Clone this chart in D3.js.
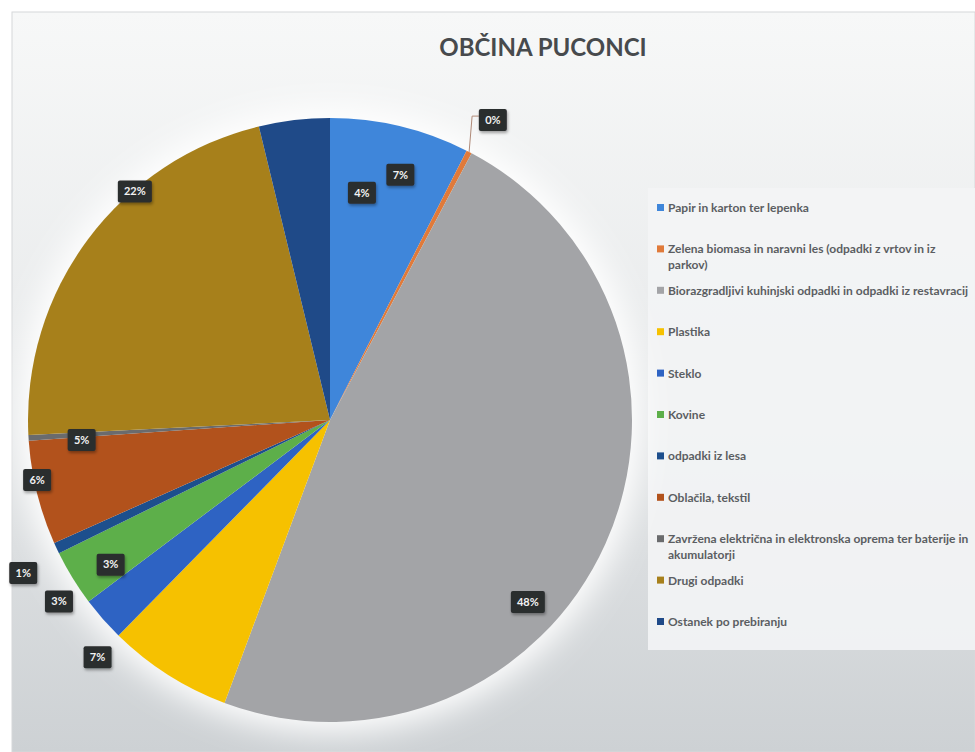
<!DOCTYPE html>
<html>
<head>
<meta charset="utf-8">
<script src="https://cdn.jsdelivr.net/npm/d3@7"></script>
<style>
  body { margin: 0; background: #fff; overflow: hidden; }
  text { font-family: Lato, "Open Sans", sans-serif; }
</style>
</head>
<body>
<div id="chart"></div>
<script>
// categories, share in % and the label text printed on the picture
const categories = [
    "Papir in karton ter lepenka",
    "Zelena biomasa in naravni les (odpadki z vrtov in iz parkov)",
    "Biorazgradljivi kuhinjski odpadki in odpadki iz restavracij",
    "Plastika",
    "Steklo",
    "Kovine",
    "odpadki iz lesa",
    "Oblačila, tekstil",
    "Zavržena električna in elektronska oprema ter baterije in akumulatorji",
    "Drugi odpadki",
    "Ostanek po prebiranju"
]
const shares = [7.5, 0.3, 48.1, 6.7, 2.4, 3.0, 0.6, 5.6, 0.3, 22.1, 3.8]
const shareLabels = ["7%", "0%", "48%", "7%", "3%", "3%", "1%", "6%", "5%", "22%", "4%"]
const legendLines = [
    ["Papir in karton ter lepenka"],
    ["Zelena biomasa in naravni les (odpadki z vrtov in iz", "parkov)"],
    ["Biorazgradljivi kuhinjski odpadki in odpadki iz restavracij"],
    ["Plastika"],
    ["Steklo"],
    ["Kovine"],
    ["odpadki iz lesa"],
    ["Oblačila, tekstil"],
    ["Zavržena električna in elektronska oprema ter baterije in", "akumulatorji"],
    ["Drugi odpadki"],
    ["Ostanek po prebiranju"]
]

const colors = ["#3f86da", "#e07a3a", "#a3a4a7", "#f6c100", "#2e63c3", "#5daf4a",
                "#1d4f8d", "#b2521c", "#6a6b6d", "#a7801b", "#1f4a88"]

// where the percentage boxes sit: angle (deg, clockwise from top) and radius factor
const labelPos = [[16, 0.845], [28.5, 1.13], [132.6, 0.89], [224.4, 1.10], [236.2, 1.08],
                  [236.6, 0.87], [243.5, 1.135], [258.4, 0.99], [265.4, 0.825], [319.5, 0.995], [8, 0.76]]

const W = 975, H = 752
const cx = 330, cy = 420, radius = 302

let svg = d3.select("#chart").append("svg")
    .attr("width", W)
    .attr("height", H)

let defs = svg.append("defs")
let bg = defs.append("linearGradient").attr("id", "bg")
    .attr("x1", 0).attr("y1", 0).attr("x2", 0).attr("y2", 1)
bg.append("stop").attr("offset", "0%").attr("stop-color", "#f7f8f8")
bg.append("stop").attr("offset", "45%").attr("stop-color", "#e9ebec")
bg.append("stop").attr("offset", "100%").attr("stop-color", "#cdd1d4")
defs.append("filter").attr("id", "glow")
    .attr("x", "-20%").attr("y", "-20%").attr("width", "140%").attr("height", "140%")
    .append("feGaussianBlur").attr("stdDeviation", 16)
let sh = defs.append("filter").attr("id", "shadow")
    .attr("x", "-30%").attr("y", "-30%").attr("width", "160%").attr("height", "160%")
sh.append("feDropShadow").attr("dx", 1).attr("dy", 2).attr("stdDeviation", 1.5)
    .attr("flood-color", "#000").attr("flood-opacity", 0.35)

// scanned panel
svg.append("rect")
    .attr("x", 12).attr("y", 12)
    .attr("width", W - 12).attr("height", H - 12)
    .attr("fill", "url(#bg)")
    .attr("stroke", "#d6d8da")

// legend panel
svg.append("rect")
    .attr("x", 648).attr("y", 188)
    .attr("width", W - 648).attr("height", 462)
    .attr("fill", "#f3f4f5")
    .attr("opacity", 0.9)

svg.append("text")
    .attr("x", 543)
    .attr("y", 56)
    .attr("text-anchor", "middle")
    .attr("font-size", 24)
    .attr("font-weight", "bold")
    .attr("fill", "#474a4d")
    .text("OBČINA PUCONCI")

let pieG = svg.append("g")
    .attr("transform", "translate(" + cx + "," + cy + ")")

pieG.append("circle")
    .attr("r", radius + 10)
    .attr("fill", "#ffffff")
    .attr("filter", "url(#glow)")

let pie = d3.pie().sort(null).value(d => d)
let arcs = pie(shares)
let arc = d3.arc().innerRadius(0).outerRadius(radius)

pieG.selectAll("path.slice")
    .data(arcs)
    .join("path")
    .attr("class", "slice")
    .attr("d", arc)
    .attr("fill", (d, i) => colors[i])

// leader line for the small orange slice
let rad = Math.PI / 180
let z = arcs[1]
let zMid = (z.startAngle + z.endAngle) / 2
let p0 = [radius * Math.sin(zMid), -radius * Math.cos(zMid)]
let lp = labelPos[1]
let p2 = [(radius * lp[1]) * Math.sin(lp[0] * rad), -(radius * lp[1]) * Math.cos(lp[0] * rad)]
pieG.append("polyline")
    .attr("points", [p0, [p0[0] + 3, p2[1] - 4], [p2[0] - 14, p2[1] - 4]].map(p => p.join(",")).join(" "))
    .attr("fill", "none")
    .attr("stroke", "#b08a78")
    .attr("stroke-width", 1)

let labels = pieG.selectAll("g.lbl")
    .data(arcs)
    .join("g")
    .attr("class", "lbl")
    .attr("transform", (d, i) => {
        let a = labelPos[i][0] * rad, r = radius * labelPos[i][1]
        return "translate(" + (r * Math.sin(a)) + "," + (-r * Math.cos(a)) + ")"
    })

labels.append("rect")
    .attr("x", (d, i) => shareLabels[i].length > 2 ? -17 : -14)
    .attr("y", -11)
    .attr("width", (d, i) => shareLabels[i].length > 2 ? 34 : 28)
    .attr("height", 22)
    .attr("rx", 2)
    .attr("fill", "#2b2d2f")
    .attr("filter", "url(#shadow)")

labels.append("text")
    .attr("text-anchor", "middle")
    .attr("dy", "0.35em")
    .attr("font-size", 11)
    .attr("font-weight", "bold")
    .attr("fill", "#f2f2f2")
    .text((d, i) => shareLabels[i])

// legend
let legend = svg.append("g")
    .attr("transform", "translate(660,208)")

let items = legend.selectAll("g")
    .data(categories)
    .join("g")
    .attr("transform", (d, i) => "translate(0," + (i * 41.4) + ")")

items.append("rect")
    .attr("x", -3).attr("y", -4)
    .attr("width", 7).attr("height", 7)
    .attr("fill", (d, i) => colors[i])

items.each(function(d, i) {
    let t = d3.select(this).append("text")
        .attr("x", 8)
        .attr("y", 4)
        .attr("font-size", 12)
        .attr("font-weight", "bold")
        .attr("fill", "#5b5e62")
    legendLines[i].forEach((line, k) => {
        t.append("tspan")
            .attr("x", 8)
            .attr("dy", k == 0 ? 0 : 16)
            .text(line)
    })
})
</script>
</body>
</html>
